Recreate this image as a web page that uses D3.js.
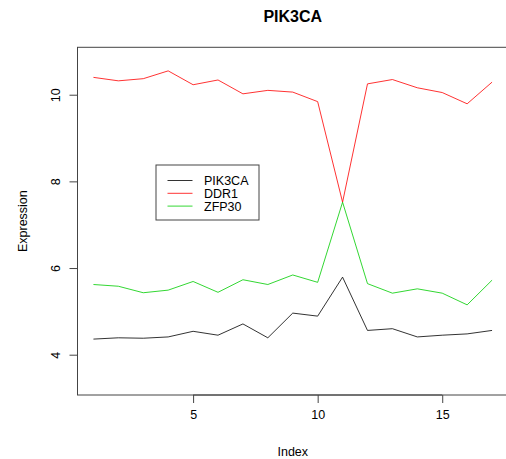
<!DOCTYPE html>
<html>
<head>
<meta charset="utf-8">
<script src="https://cdn.jsdelivr.net/npm/d3@7"></script>
<style>
  html, body { margin: 0; padding: 0; background: #fff; }
  svg { display: block; font-family: "Liberation Sans", Arial, Helvetica, sans-serif; }
</style>
</head>
<body>
<svg id="chart" width="506" height="459"></svg>
<script>
const index = d3.range(1, 18);
const pik3ca = [4.36, 4.39, 4.38, 4.41, 4.54, 4.45, 4.71, 4.39, 4.96, 4.89, 5.79, 4.56, 4.60, 4.41, 4.45, 4.48, 4.56];
const ddr1   = [10.40, 10.32, 10.37, 10.55, 10.23, 10.34, 10.02, 10.10, 10.06, 9.84, 7.52, 10.25, 10.35, 10.16, 10.05, 9.79, 10.29];
const zfp30  = [5.62, 5.58, 5.43, 5.49, 5.69, 5.44, 5.73, 5.62, 5.84, 5.67, 7.52, 5.64, 5.42, 5.52, 5.42, 5.15, 5.72];
const seriesNames = ["PIK3CA", "DDR1", "ZFP30"];
const seriesColors = ["#000000", "#ff0000", "#00cd00"];
const xTicks = [5, 10, 15];
const yTicks = [4, 6, 8, 10];
const title = "PIK3CA";
const xLabel = "Index";
const yLabel = "Expression";

(function () {
const svg = d3.select("#chart");
const mLeft = 77.5, mRight = 508, mTop = 47.3, mBottom = 395;

const x = d3.scaleLinear().domain([0.36, 17.64]).range([mLeft, mRight]);
const y = d3.scaleLinear().domain([3.07, 11.094]).range([mBottom, mTop]);

// plot box
svg.append("rect")
  .attr("x", mLeft).attr("y", mTop)
  .attr("width", mRight - mLeft).attr("height", mBottom - mTop)
  .attr("fill", "none").attr("stroke", "#444").attr("stroke-width", 1);

// x axis
const xAxis = d3.axisBottom(x).tickValues(xTicks).tickSize(8).tickPadding(7).tickFormat(d3.format("d"));
const gx = svg.append("g").attr("transform", `translate(0,${mBottom})`).call(xAxis);
gx.select(".domain").attr("d", `M${x(xTicks[0])},0H${x(xTicks[xTicks.length-1])}`).attr("stroke", "#444");
gx.selectAll(".tick line").attr("stroke", "#444");
gx.selectAll(".tick text").attr("font-size", 12.5).attr("fill", "#000")
  .attr("font-family", "Liberation Sans, Arial, sans-serif");

// y axis
const yAxis = d3.axisLeft(y).tickValues(yTicks).tickSize(8).tickFormat(d3.format("d"));
const gy = svg.append("g").attr("transform", `translate(${mLeft},0)`).call(yAxis);
gy.select(".domain").attr("d", `M0,${y(yTicks[0])}V${y(yTicks[yTicks.length-1])}`).attr("stroke", "#444");
gy.selectAll(".tick line").attr("stroke", "#444");
gy.selectAll(".tick text")
  .attr("font-size", 12.5).attr("fill", "#000")
  .attr("font-family", "Liberation Sans, Arial, sans-serif")
  .attr("x", 0).attr("dy", null)
  .attr("text-anchor", "middle")
  .attr("transform", "translate(-18,0) rotate(-90)");

// lines
const data = [pik3ca, ddr1, zfp30];
const line = d3.line().x((d, i) => x(index[i])).y(d => y(d));
data.forEach((vals, k) => {
  svg.append("path").datum(vals)
    .attr("d", line)
    .attr("fill", "none")
    .attr("stroke", seriesColors[k])
    .attr("stroke-opacity", 0.8)
    .attr("stroke-width", 1);
});

// title
svg.append("text").attr("x", (mLeft + mRight) / 2).attr("y", 22)
  .attr("text-anchor", "middle").attr("font-weight", "bold").attr("font-size", 16)
  .text(title);

// axis labels
svg.append("text").attr("x", (mLeft + mRight) / 2).attr("y", 456)
  .attr("text-anchor", "middle").attr("font-size", 12.5).text(xLabel);
svg.append("text")
  .attr("transform", `translate(26.5,${(mTop + mBottom) / 2}) rotate(-90)`)
  .attr("text-anchor", "middle").attr("font-size", 12.5).text(yLabel);

// legend
const lg = svg.append("g");
lg.append("rect").attr("x", 156).attr("y", 165).attr("width", 103).attr("height", 55)
  .attr("fill", "#fff").attr("stroke", "#444").attr("stroke-width", 1);
seriesNames.forEach((name, k) => {
  const yy = 180.5 + k * 12.8;
  lg.append("line").attr("x1", 167.5).attr("x2", 192.5).attr("y1", yy).attr("y2", yy)
    .attr("stroke", seriesColors[k]).attr("stroke-opacity", 0.8).attr("stroke-width", 1);
  lg.append("text").attr("x", 204).attr("y", yy + 4.5).attr("font-size", 12.5).text(name);
});
})();
</script>
</body>
</html>
